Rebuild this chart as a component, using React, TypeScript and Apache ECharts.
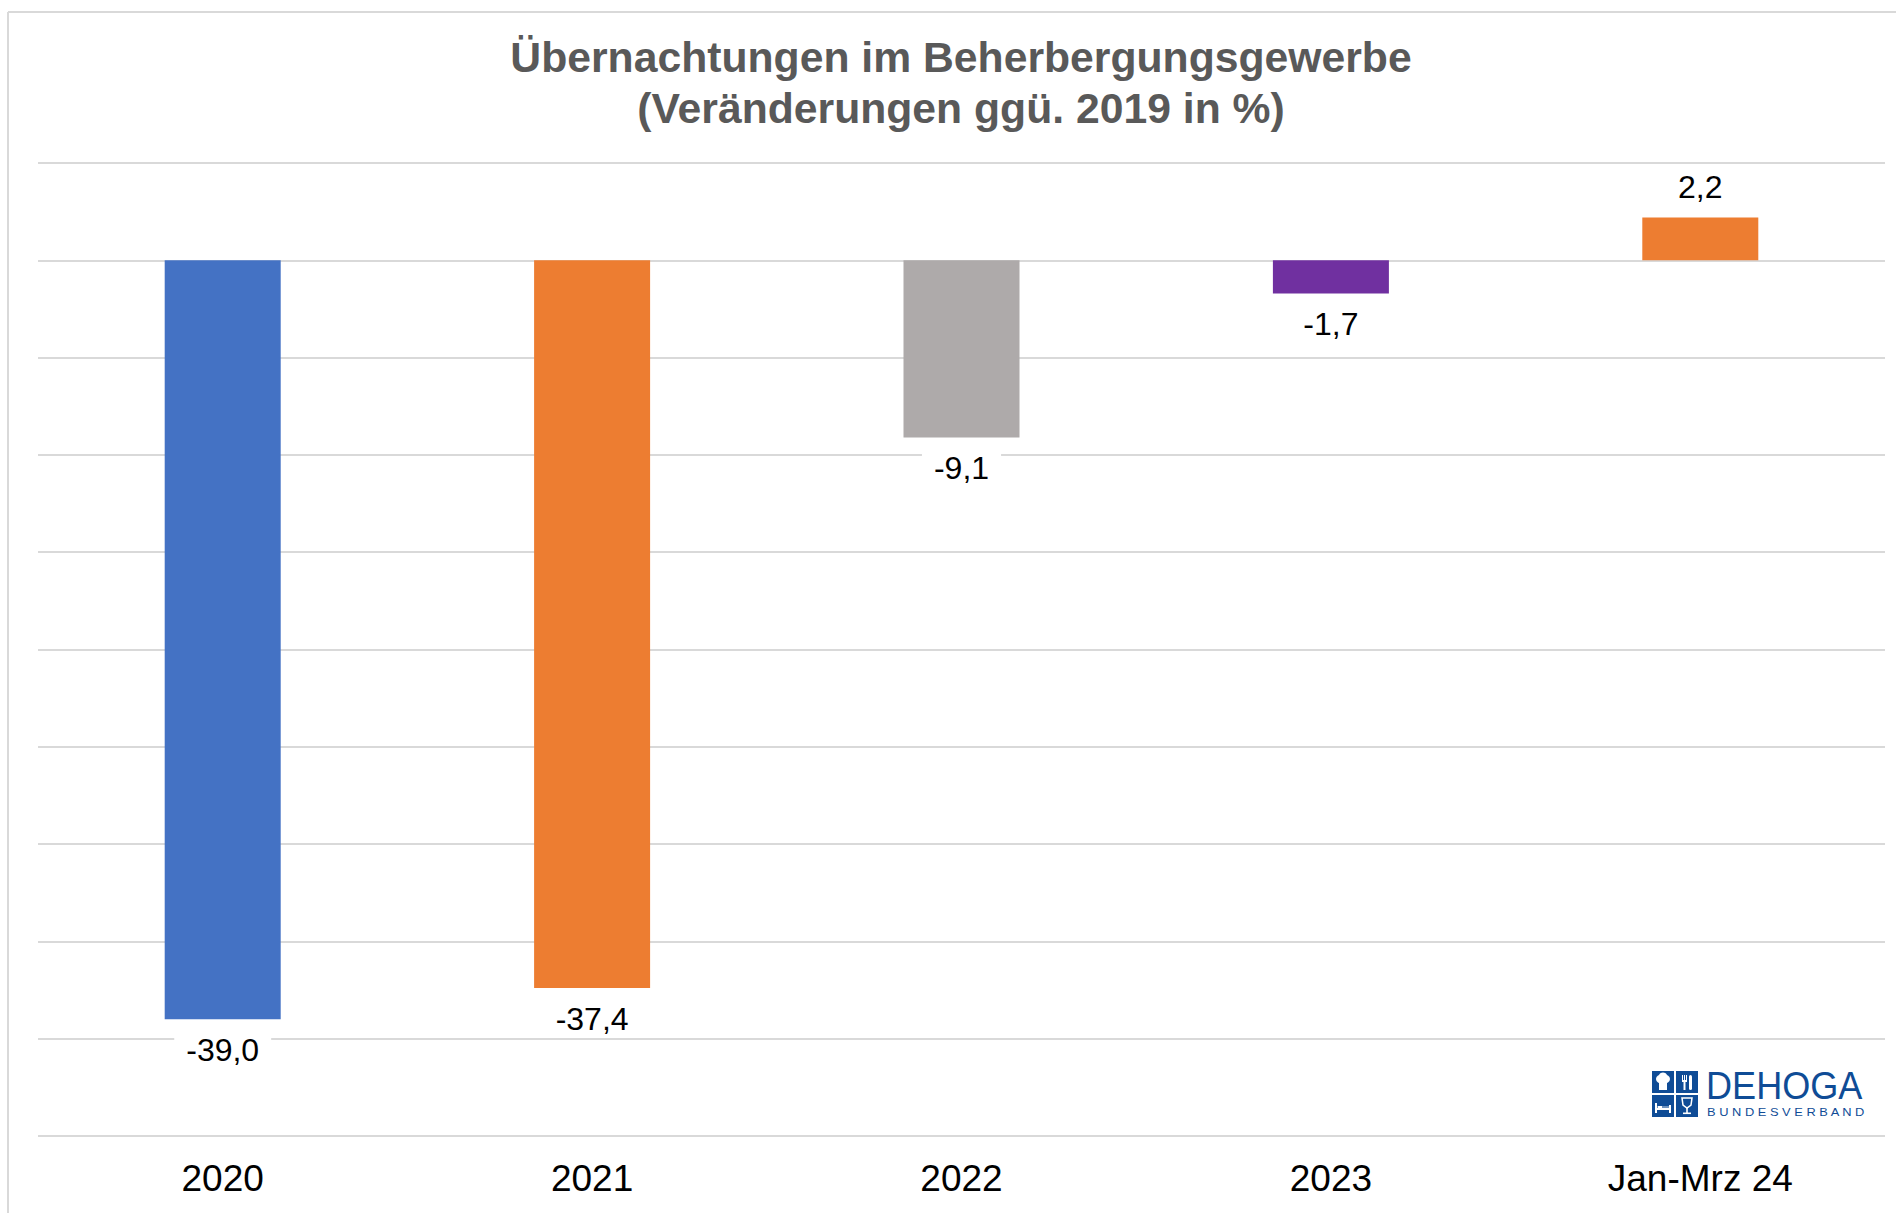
import React, { useEffect, useRef } from "react";
import * as echarts from "echarts";

const categories = ["2020", "2021", "2022", "2023", "Jan-Mrz 24"];
const values = [-39.0, -37.4, -9.1, -1.7, 2.2];
const barColors = ["#4472C4", "#ED7D31", "#AEAAAA", "#7030A0", "#ED7D31"];
const titleLines = ["Übernachtungen im Beherbergungsgewerbe", "(Veränderungen ggü. 2019 in %)"];
const yMin = -45;
const yMax = 5;
const yStep = 5;

const FONT = "'Liberation Sans', Arial, Helvetica, sans-serif";
const GRID_COLOR = "#d9d9d9";
const LOGO_BLUE = "#0f4c96";

function logoGraphic() {
  const q = 22;
  const g = 2;
  const quad = (x: number, y: number) => ({
    type: "rect",
    shape: { x, y, width: q, height: q },
    style: { fill: LOGO_BLUE },
  });
  const w = { fill: "#ffffff" };
  const o = q + g;
  return {
    type: "group",
    x: 1652,
    y: 1071,
    children: [
      quad(0, 0),
      quad(o, 0),
      quad(0, o),
      quad(o, o),
      // chef hat
      { type: "circle", shape: { cx: 8, cy: 8, r: 4 }, style: w },
      { type: "circle", shape: { cx: 14, cy: 8, r: 4 }, style: w },
      { type: "circle", shape: { cx: 11, cy: 6, r: 4.5 }, style: w },
      { type: "rect", shape: { x: 7, y: 9, width: 8, height: 10 }, style: w },
      // fork & knife
      { type: "rect", shape: { x: o + 6, y: 4, width: 1, height: 6 }, style: w },
      { type: "rect", shape: { x: o + 8, y: 4, width: 1, height: 6 }, style: w },
      { type: "rect", shape: { x: o + 10, y: 4, width: 1, height: 6 }, style: w },
      { type: "rect", shape: { x: o + 6, y: 9, width: 5, height: 2 }, style: w },
      { type: "rect", shape: { x: o + 7.5, y: 10, width: 2, height: 9 }, style: w },
      { type: "rect", shape: { x: o + 13, y: 4, width: 3, height: 15, r: 1.5 }, style: w },
      // bed
      { type: "rect", shape: { x: 3, y: o + 8, width: 2, height: 10 }, style: w },
      { type: "rect", shape: { x: 17, y: o + 10, width: 2, height: 8 }, style: w },
      { type: "rect", shape: { x: 3, y: o + 13, width: 16, height: 2 }, style: w },
      { type: "rect", shape: { x: 6, y: o + 11, width: 4, height: 2 }, style: w },
      { type: "line", shape: { x1: 5, y1: o + 12, x2: 17, y2: o + 12 }, style: { stroke: "#ffffff", lineWidth: 0.8 } },
      // wine glass
      {
        type: "polygon",
        shape: { points: [[o + 6, o + 3], [o + 16, o + 3], [o + 15, o + 10], [o + 11, o + 13], [o + 7, o + 10]] },
        style: { fill: "none", stroke: "#ffffff", lineWidth: 1.5 },
      },
      { type: "rect", shape: { x: o + 10.2, y: o + 12, width: 1.6, height: 6 }, style: w },
      { type: "rect", shape: { x: o + 7, y: o + 17.5, width: 8, height: 1.6 }, style: w },
      {
        type: "text",
        x: 54,
        y: 15,
        scaleX: 0.95,
        style: {
          text: "DEHOGA",
          fill: LOGO_BLUE,
          font: `38px ${FONT}`,
          textAlign: "left",
          textVerticalAlign: "middle",
        },
      },
      {
        type: "text",
        x: 55,
        y: 41,
        scaleX: 1.17,
        style: {
          text: "B U N D E S V E R B A N D",
          fill: LOGO_BLUE,
          font: `11px ${FONT}`,
          textAlign: "left",
          textVerticalAlign: "middle",
        },
      },
    ],
  };
}

export default function App() {
  const ref = useRef<HTMLDivElement>(null);
  useEffect(() => {
    if (!ref.current) return;
    const chart = echarts.init(ref.current, null, { renderer: "svg" });
    const option: any = {
      animation: false,
      backgroundColor: "#ffffff",
      textStyle: { fontFamily: FONT },
      grid: { left: 38, right: 11, top: 163, bottom: 77 },
      xAxis: {
        type: "category",
        data: categories,
        axisLine: { show: false, onZero: false },
        axisTick: { show: false },
        splitLine: { show: false },
        axisLabel: { fontSize: 37, color: "#000000", margin: 24, fontFamily: FONT },
      },
      yAxis: {
        type: "value",
        min: yMin,
        max: yMax,
        interval: yStep,
        axisLabel: { show: false },
        axisLine: { show: false },
        axisTick: { show: false },
        splitLine: { show: true, lineStyle: { color: GRID_COLOR, width: 2 } },
      },
      series: [
        {
          type: "bar",
          barWidth: 116,
          data: values.map((v, i) => ({
            value: v,
            itemStyle: { color: barColors[i] },
            label: { distance: v >= 0 ? 12 : 13 },
          })),
          label: {
            show: true,
            position: "outside",
            distance: 13,
            fontSize: 32,
            color: "#000000",
            fontFamily: FONT,
            backgroundColor: "#ffffff",
            padding: [2, 12],
            formatter: (p: any) => Number(p.value).toFixed(1).replace(".", ","),
          },
        },
      ],
      graphic: [
        {
          type: "line",
          shape: { x1: 8, y1: 12, x2: 1896, y2: 12 },
          style: { stroke: GRID_COLOR, lineWidth: 2 },
          silent: true,
        },
        {
          type: "line",
          shape: { x1: 8, y1: 12, x2: 8, y2: 1213 },
          style: { stroke: GRID_COLOR, lineWidth: 2 },
          silent: true,
        },
        {
          type: "text",
          x: 961,
          y: 31,
          style: {
            text: titleLines.join("\n"),
            fill: "#595959",
            font: `bold 42.7px ${FONT}`,
            lineHeight: 51,
            textAlign: "center",
            textVerticalAlign: "top",
          },
        },
        logoGraphic(),
      ],
    };
    chart.setOption(option);
    return () => chart.dispose();
  }, []);
  return (
    <div
      ref={ref}
      style={{ position: "absolute", left: 0, top: 0, width: 1896, height: 1213 }}
    />
  );
}
